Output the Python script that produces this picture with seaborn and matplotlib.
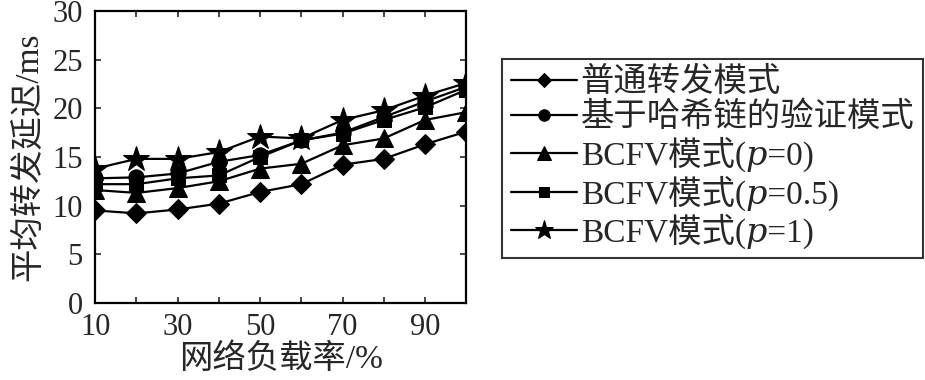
import numpy as np
import pandas as pd
import matplotlib
matplotlib.use("Agg")
import matplotlib.pyplot as plt
import seaborn as sns

# ==========================================================
#  DATA
# ==========================================================
load = [10, 20, 30, 40, 50, 60, 70, 80, 90, 100]

normal = [9.5, 9.2, 9.6, 10.2, 11.4, 12.2, 14.2, 14.8, 16.3, 17.6]
hashchain = [12.8, 12.9, 13.3, 14.5, 15.2, 16.7, 17.5, 19.1, 20.7, 22.2]
bcfv_p0 = [11.6, 11.3, 11.8, 12.5, 13.8, 14.3, 16.2, 16.9, 18.8, 19.6]
bcfv_p05 = [12.2, 12.2, 12.8, 13.1, 15.0, 16.7, 17.4, 18.8, 20.1, 21.9]
bcfv_p1 = [13.8, 14.8, 14.8, 15.5, 17.1, 16.9, 18.8, 19.8, 21.3, 22.6]

labels = ["普通转发模式", "基于哈希链的验证模式",
          "BCFV模式(\U0001D45D=0)", "BCFV模式(\U0001D45D=0.5)",
          "BCFV模式(\U0001D45D=1)"]
series = [normal, hashchain, bcfv_p0, bcfv_p05, bcfv_p1]

markers = ["D", "o", "^", "s", "*"]
msizes = [10, 11, 13, 10, 19]

xtick_labels = ["10", "", "30", "", "50", "", "70", "", "90", ""]

# long-form table
df = pd.concat([
    pd.DataFrame({"load": load, "delay": s, "mode": lab})
    for s, lab in zip(series, labels)
], ignore_index=True)

# ==========================================================
#  STYLE
# ==========================================================
sns.set_style("ticks")
plt.rcParams["font.family"] = ["Liberation Serif", "Noto Sans CJK SC",
                               "DejaVu Serif", "DejaVu Sans"]
plt.rcParams["axes.unicode_minus"] = False

fig = plt.figure(figsize=(9.25, 3.8), dpi=100)
ax = fig.add_axes([0.103, 0.203, 0.401, 0.768])

for lab, m, ms in zip(labels, markers, msizes):
    sub = df[df["mode"] == lab]
    sns.lineplot(data=sub, x="load", y="delay", ax=ax, color="black",
                 marker=m, markersize=ms, markeredgecolor="black",
                 linewidth=1.6, label=lab)

ax.set_xlim(10, 100)
ax.set_ylim(0, 30)
ax.set_xticks(load)
ax.set_xticklabels(xtick_labels)
ax.set_yticks(np.arange(0, 31, 5))
ax.tick_params(direction="in", length=4, width=1.2, labelsize=22,
               top=True, right=True)
ax.tick_params(axis="x", pad=7)
ax.tick_params(axis="y", pad=9)
for sp in ax.spines.values():
    sp.set_visible(True)
    sp.set_linewidth(1.6)
    sp.set_color("black")

ax.set_xlabel("网络负载率/%", fontsize=24, labelpad=1)
ax.set_ylabel("平均转发延迟/ms", fontsize=24, labelpad=6)

leg = ax.legend(loc="upper left", bbox_to_anchor=(0.543, 0.845),
                bbox_transform=fig.transFigure, fontsize=24,
                frameon=True, fancybox=False, edgecolor="black",
                handlelength=2.0, handletextpad=0.1, borderpad=0.25,
                labelspacing=0.1, markerscale=0.75, borderaxespad=0)
leg.get_frame().set_linewidth(1.5)

plt.savefig("out.png", dpi=100)
plt.close()
